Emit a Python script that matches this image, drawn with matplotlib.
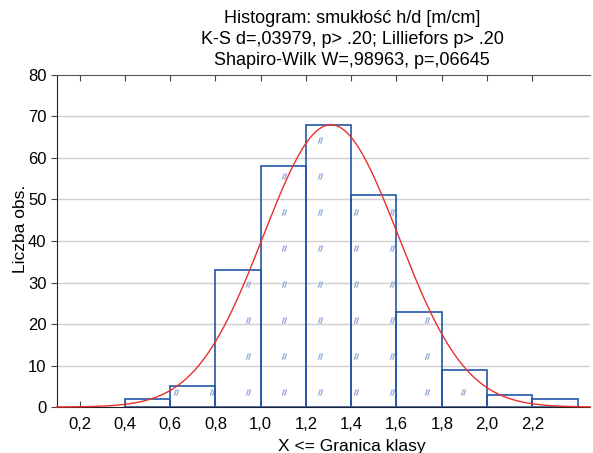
import numpy as np
import matplotlib
matplotlib.use("Agg")
import matplotlib.pyplot as plt

plt.rcParams['font.family'] = ['Liberation Sans', 'DejaVu Sans']

# histogram data: class edges and counts
bin_edges = [0.4, 0.6, 0.8, 1.0, 1.2, 1.4, 1.6, 1.8, 2.0, 2.2, 2.4]
counts = [2, 5, 33, 58, 68, 51, 23, 9, 3, 2]

# fitted normal curve parameters
mu = 1.31
sigma = 0.298

x_ticks = [0.2, 0.4, 0.6, 0.8, 1.0, 1.2, 1.4, 1.6, 1.8, 2.0, 2.2]
x_tick_labels = ['0,2', '0,4', '0,6', '0,8', '1,0', '1,2', '1,4', '1,6', '1,8', '2,0', '2,2']
y_ticks = [0, 10, 20, 30, 40, 50, 60, 70, 80]

title_lines = ['Histogram: smukłość h/d [m/cm]',
               'K-S d=,03979, p> .20; Lilliefors p> .20',
               'Shapiro-Wilk W=,98963, p=,06645']

fig = plt.figure(figsize=(5.93, 4.53), dpi=100)
ax = fig.add_axes([0.096, 0.1015, 0.899, 0.733])

edges = np.array(bin_edges)
widths = np.diff(edges)
lefts = edges[:-1]
heights = np.array(counts)

ax.set_xlim(0.1, 2.455)
ax.set_ylim(0, 80)

for yt in y_ticks[1:-1]:
    ax.axhline(yt, color='#d0d0d0', lw=1, zorder=0)

# little pattern marks inside bars (like the original fill)
gx = np.arange(0.624, 2.4, 0.159)
gy = np.arange(3.7, 80, 8.67)
px, py = [], []
for xx in gx:
    i = np.searchsorted(edges, xx) - 1
    if 0 <= i < len(heights):
        for yy in gy:
            if yy < heights[i] - 1:
                px.append(xx)
                py.append(yy)
ax.scatter(px, py, marker='$//$', s=16, color='#9ab0dc', linewidths=0.5, zorder=2)

ax.bar(lefts, heights, width=widths, align='edge', facecolor='none',
       edgecolor='#2456a8', linewidth=1.2, zorder=3)

xs = np.linspace(0.1, 2.455, 400)
n = heights.sum()
ys = n * 0.2 / (sigma * np.sqrt(2 * np.pi)) * np.exp(-0.5 * ((xs - mu) / sigma) ** 2)
ax.plot(xs, ys, color='#e8302c', lw=1, zorder=4, clip_on=False)

ax.set_xticks(x_ticks)
ax.set_xticklabels(x_tick_labels, fontsize=12)
ax.set_yticks(y_ticks)
ax.set_yticklabels([str(v) for v in y_ticks], fontsize=12)
ax.tick_params(axis='x', direction='in', top=True, length=4, color='#444444', pad=7)
ax.tick_params(axis='y', direction='out', length=4, color='#444444')

ax.spines['right'].set_visible(False)
ax.spines['top'].set_color('#555555')
ax.spines['left'].set_color('#222222')
ax.spines['bottom'].set_color('#222222')

ax.set_xlabel('X <= Granica klasy', fontsize=12.5)
ax.xaxis.set_label_coords(0.553, -0.097)
ax.set_ylabel('Liczba obs.', fontsize=12.5)
ax.yaxis.set_label_coords(-0.054, 0.536)

fig.text(0.594, 0.977, '\n'.join(title_lines), ha='center', va='top',
         fontsize=13, linespacing=1.3)

fig.savefig('out.png', dpi=100)
